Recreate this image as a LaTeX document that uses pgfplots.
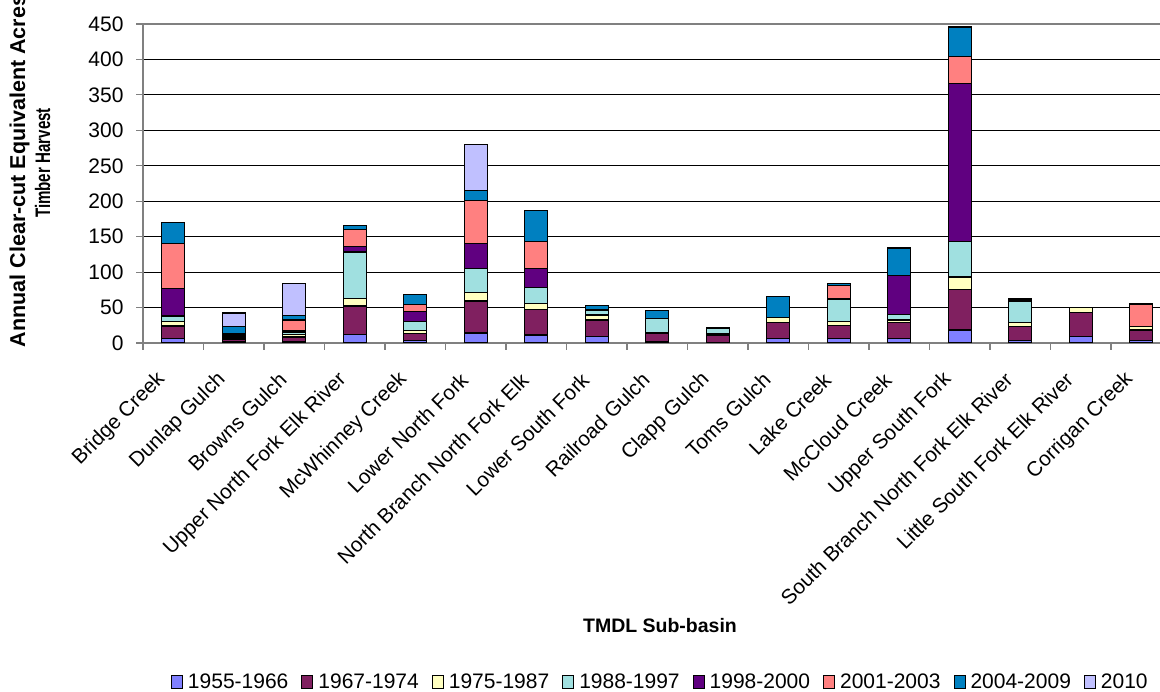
\documentclass[border=0pt]{standalone}
\usepackage{pgfplots}
\pgfplotsset{compat=1.18}
\usepackage{pgfplotstable}
\usepackage{graphicx}
\usepackage{fontspec}
\setmainfont{Liberation Sans}
\definecolor{cA}{HTML}{8080FF}
\definecolor{cB}{HTML}{802060}
\definecolor{cC}{HTML}{FFFFC0}
\definecolor{cD}{HTML}{A0E0E0}
\definecolor{cE}{HTML}{600080}
\definecolor{cF}{HTML}{FF8080}
\definecolor{cG}{HTML}{0080C0}
\definecolor{cH}{HTML}{C0C0FF}
\definecolor{axgray}{HTML}{808080}
\pgfplotstableread{
x a b c d e f g h
0 6.6 17.4 6 8 38.6 64 29.4 0
1 1.5 4 1.5 3 2 1 10 19.5
2 1.5 7 3 4 1.9 15 6.6 44.7
3 12.2 40 10.3 65.9 7.6 24.3 5.2 0
4 3.8 9.8 4 12.5 14 10.3 14.5 0
5 14.1 45.1 11.8 33.9 35.8 60 14.2 65.3
6 11.3 36.2 8.5 22.5 26.4 38.1 43.7 0
7 9 23.4 7 7 1 0 5 0
8 1.5 12 1.5 19.5 0 0 11 0
9 1 10 1.5 8 0.5 0 0 0
10 6.6 22.1 7 0.5 0 0 29.2 0
11 6.6 18.3 5.7 31 0.5 19.3 2.3 0
12 6.6 22.1 3.7 7.6 55 0 39 0
13 18.3 57.4 17.4 50.3 222.9 38.1 41.4 0
14 3.8 19.2 5.7 30.5 0 0 2.8 0
15 8.9 33.9 7.5 0 0 0 0 0
16 3.8 14.5 4.7 0.5 0 31.5 0 0
}\datatable
\begin{document}
\begin{tikzpicture}
\useasboundingbox (0pt,0pt) rectangle (1160pt,692pt);
\begin{axis}[
  at={(143pt,349pt)}, anchor=south west,
  scale only axis, width=1028.5pt, height=319pt,
  ybar stacked, bar width=23pt,
  xmin=-0.5, xmax=16.5, ymin=0, ymax=450,
  ytick={0,50,...,450},
  xtick={-0.5,0.5,...,16.5},
  x tick label as interval,
  xticklabels={Bridge Creek, Dunlap Gulch, Browns Gulch, Upper North Fork Elk River, McWhinney Creek, Lower North Fork, North Branch North Fork Elk, Lower South Fork, Railroad Gulch, Clapp Gulch, Toms Gulch, Lake Creek, McCloud Creek, Upper South Fork, South Branch North Fork Elk River, Little South Fork Elk River, Corrigan Creek},
  xtick pos=bottom, ytick pos=left,
  tick align=outside,
  major tick length=7pt,
  every tick/.style={axgray, line width=1.2pt},
  axis line style={axgray, line width=1.5pt},
  ymajorgrids, major grid style={black, line width=0.9pt},
  /pgf/number format/assume math mode=true,
  yticklabel style={font=\fontsize{21}{24}\selectfont, xshift=-9pt},
  xticklabel style={font=\fontsize{20.7}{24}\selectfont, xshift=-9pt, yshift=-24pt, rotate=45, anchor=east},
  every axis plot/.append style={draw=black, line width=1.3pt},
  legend style={at={(0.503,-1.063)}, anchor=center, draw=none, fill=none,
    font=\fontsize{21}{24}\selectfont, legend columns=8,
    /tikz/every even column/.append style={column sep=11pt},
    /tikz/every odd column/.append style={column sep=3pt}},
  legend cell align=left,
  legend image code/.code={\draw[#1, line width=1pt] (0pt,-6.5pt) rectangle (11pt,6.5pt);},
]
\addplot[fill=cA] table[x=x,y=a]{\datatable};
\addplot[fill=cB] table[x=x,y=b]{\datatable};
\addplot[fill=cC] table[x=x,y=c]{\datatable};
\addplot[fill=cD] table[x=x,y=d]{\datatable};
\addplot[fill=cE] table[x=x,y=e]{\datatable};
\addplot[fill=cF] table[x=x,y=f]{\datatable};
\addplot[fill=cG] table[x=x,y=g]{\datatable};
\addplot[fill=cH] table[x=x,y=h]{\datatable};
\legend{1955-1966,1967-1974,1975-1987,1988-1997,1998-2000,2001-2003,2004-2009,2010}
\end{axis}
\node[rotate=90, anchor=base] at (25pt,521pt) {\fontsize{21.5}{24}\selectfont\bfseries Annual Clear-cut Equivalent Acres};
\node[rotate=90, anchor=base] at (50pt,529pt) {\scalebox{0.72}[1]{\fontsize{21}{24}\selectfont\bfseries Timber Harvest}};
\node[anchor=center] at (660pt,66pt) {\fontsize{19.5}{24}\selectfont\bfseries TMDL Sub-basin};
\end{tikzpicture}
\end{document}
